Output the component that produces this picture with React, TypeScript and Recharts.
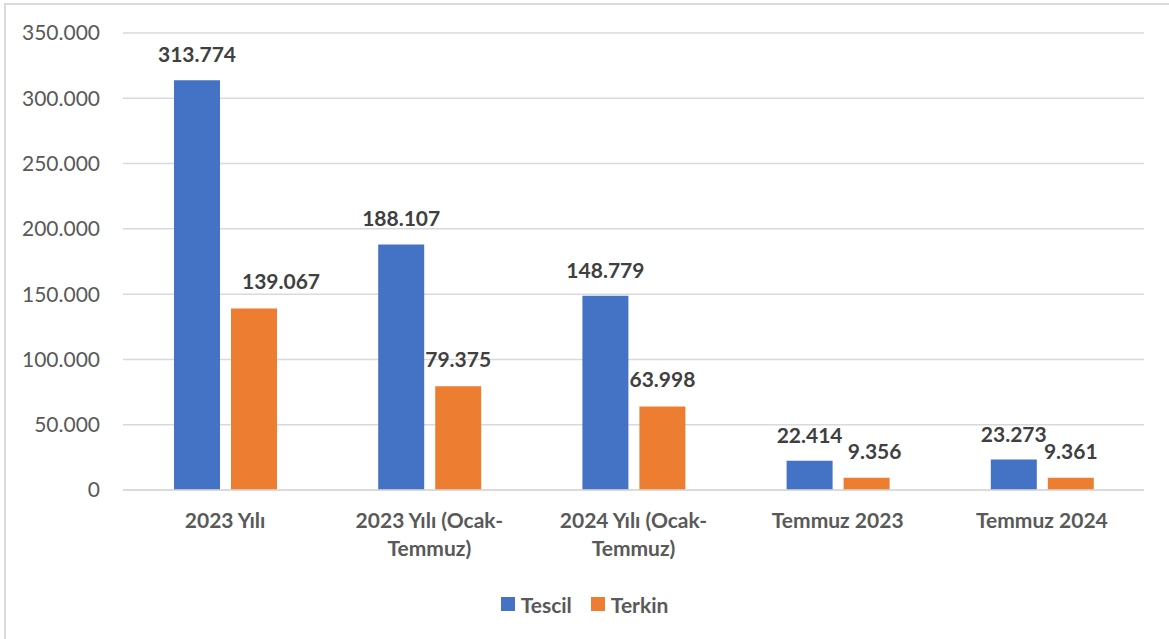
import React from 'react';
import { BarChart, Bar, XAxis, YAxis, CartesianGrid, Legend, LabelList } from 'recharts';

const categories = [
  '2023 Yılı',
  '2023 Yılı (Ocak-\nTemmuz)',
  '2024 Yılı (Ocak-\nTemmuz)',
  'Temmuz 2023',
  'Temmuz 2024',
];
const tescil = [313774, 188107, 148779, 22414, 23273];
const terkin = [139067, 79375, 63998, 9356, 9361];
const yTicks = [0, 50000, 100000, 150000, 200000, 250000, 300000, 350000];
const seriesNames = ['Tescil', 'Terkin'];
const seriesColors = ['#4472C4', '#ED7D31'];
// horizontal nudges of the Terkin value labels (as placed in the original)
const terkinLabelNudge = [27, 0, 0, 8, 0];

const data = categories.map((c, i) => ({ name: c, tescil: tescil[i], terkin: terkin[i] }));

const fmt = (v: number) => String(v).replace(/\B(?=(\d{3})+(?!\d))/g, '.');

const FONT = 'Lato, "DejaVu Sans", sans-serif';

const CatTick = (props: any) => {
  const { x, y, payload } = props;
  const lines = String(payload.value).split('\n');
  return (
    <g>
      {lines.map((l, i) => (
        <text
          key={i}
          x={x}
          y={y + 38 + i * 28}
          textAnchor="middle"
          fontFamily={FONT}
          fontWeight={700}
          fontSize={21}
          fill="#595959"
        >
          {l}
        </text>
      ))}
    </g>
  );
};

const makeLabel = (nudge: number[], gap: number) => (props: any) => {
  const { x, y, width, value, index } = props;
  return (
    <text
      x={x + width / 2 + (nudge[index] || 0)}
      y={y - gap}
      textAnchor="middle"
      fontFamily={FONT}
      fontWeight={700}
      fontSize={21}
      fill="#404040"
    >
      {fmt(value)}
    </text>
  );
};

const TescilLabel = makeLabel([0, 0, 0, 0, 0], 18);
const TerkinLabel = makeLabel(terkinLabelNudge, 19);

const LegendContent = () => (
  <div
    style={{
      display: 'flex',
      justifyContent: 'center',
      alignItems: 'center',
      height: 40,
      fontFamily: FONT,
      fontWeight: 700,
      fontSize: 21,
      color: '#595959',
    }}
  >
    {seriesNames.map((n, i) => (
      <div key={n} style={{ display: 'flex', alignItems: 'center', marginLeft: i ? 19 : 0 }}>
        <span style={{ width: 14, height: 14, background: seriesColors[i], display: 'inline-block', marginRight: 6 }} />
        <span>{n}</span>
      </div>
    ))}
  </div>
);

export default function App() {
  return (
    <div style={{ position: 'absolute', left: 0, top: 0, width: 1169, height: 639, overflow: 'hidden', background: '#fff' }}>
      <div
        style={{
          position: 'absolute',
          left: 4,
          top: 3,
          width: 1300,
          height: 800,
          border: '2px solid #d9d9d9',
          boxSizing: 'border-box',
        }}
      />
      <div style={{ position: 'absolute', left: 0, top: 0 }}>
        <BarChart
          width={1169}
          height={639}
          data={data}
          margin={{ top: 33, right: 25, left: 0, bottom: 15 }}
          barSize={46}
          barGap={11}
        >
          <CartesianGrid vertical={false} stroke="#d9d9d9" strokeWidth={1.5} />
          <XAxis
            dataKey="name"
            interval={0}
            height={94}
            tickLine={false}
            tickSize={0}
            tickMargin={0}
            axisLine={{ stroke: '#d9d9d9', strokeWidth: 1.5 }}
            tick={<CatTick />}
          />
          <YAxis
            width={123}
            domain={[0, 350000]}
            ticks={yTicks}
            interval={0}
            tickLine={false}
            axisLine={false}
            tickSize={0}
            tickMargin={23}
            tickFormatter={fmt}
            tick={{ fontFamily: FONT, fontSize: 21, fill: '#595959' }}
          />
          <Legend verticalAlign="bottom" content={<LegendContent />} wrapperStyle={{ left: 0, width: 1169, height: 40 }} />
          <Bar dataKey="tescil" name={seriesNames[0]} fill={seriesColors[0]} isAnimationActive={false}>
            <LabelList dataKey="tescil" content={TescilLabel} />
          </Bar>
          <Bar dataKey="terkin" name={seriesNames[1]} fill={seriesColors[1]} isAnimationActive={false}>
            <LabelList dataKey="terkin" content={TerkinLabel} />
          </Bar>
        </BarChart>
      </div>
    </div>
  );
}
